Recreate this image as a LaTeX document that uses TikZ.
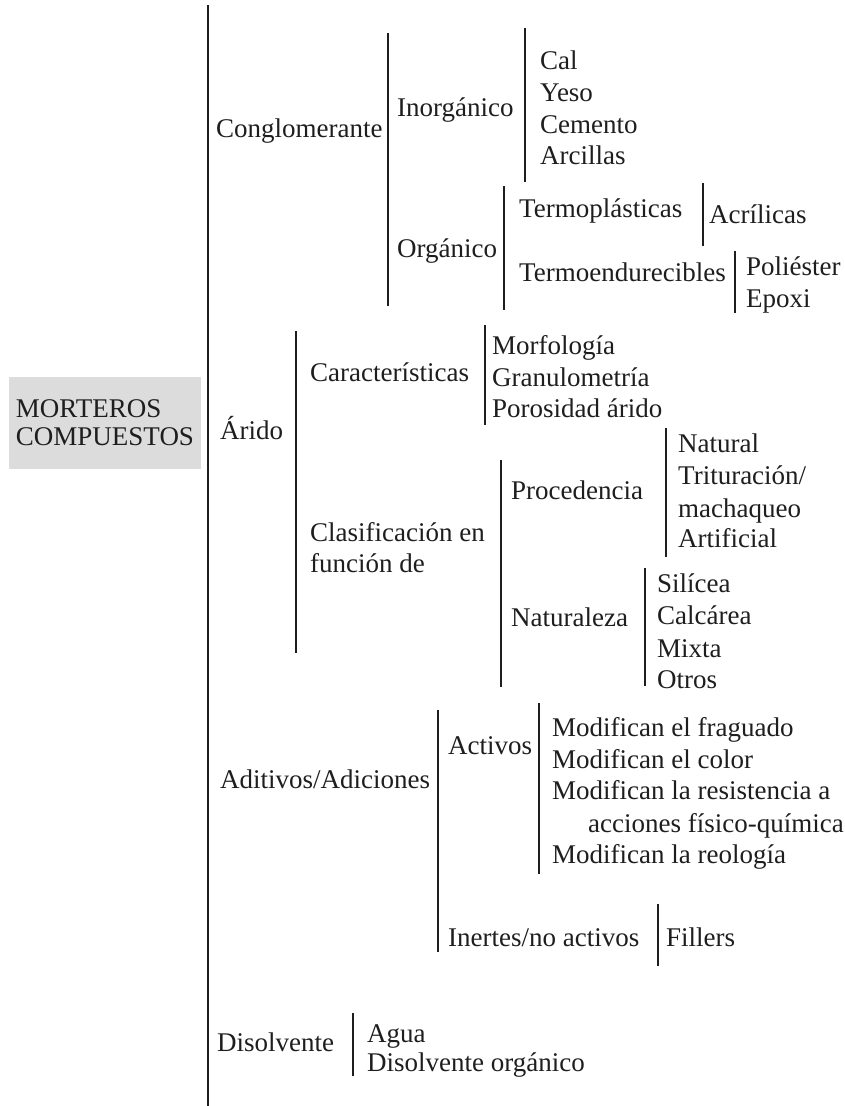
\documentclass[tikz,border=0pt]{standalone}
\usepackage{fontspec}
\setmainfont{Liberation Serif}
\usepackage{tikz}

\definecolor{boxgray}{HTML}{DCDCDC}
\definecolor{inkgray}{HTML}{1E1E1E}

\tikzset{
  item/.style={anchor=west,inner sep=0pt,text=inkgray,
    font=\fontsize{27}{32}\selectfont,text height=18pt,text depth=0pt},
  bar/.style={draw=inkgray,line width=2pt},
}

\begin{document}
\begin{tikzpicture}[x=1pt,y=-1pt]
  \useasboundingbox (0,0) rectangle (844,1106);

  % root box
  \node[fill=boxgray,minimum width=192pt,minimum height=92pt,inner sep=0pt,
        align=left,text=inkgray,font=\fontsize{27}{28}\selectfont](root) at (105,423)
        {MORTEROS\\COMPUESTOS};

  % main bar
  \coordinate (mainT) at (208,5);
  \coordinate (mainB) at (208,1106);
  \draw[bar,line width=2.5pt] (mainT) -- (mainB);

  % Conglomerante
  \node[item](conglo) at (216,128) {Conglomerante};
  \coordinate (congloT) at (388,33);
  \coordinate (congloB) at (388,306);
  \draw[bar] (congloT) -- (congloB);

  \node[item](inorg) at (397,107) {Inorgánico};
  \coordinate (inorgT) at (525,28);
  \coordinate (inorgB) at (525,182);
  \draw[bar] (inorgT) -- (inorgB);
  \node[item](cal)      at (540,60)  {Cal};
  \node[item](yeso)     at (540,92)  {Yeso};
  \node[item](cemento)  at (540,124) {Cemento};
  \node[item](arcillas) at (540,155) {Arcillas};

  \node[item](org) at (397,248) {Orgánico};
  \coordinate (orgT) at (504,186);
  \coordinate (orgB) at (504,310);
  \draw[bar] (orgT) -- (orgB);
  \node[item](termopl)  at (519,208) {Termoplásticas};
  \coordinate (termoplT) at (703,183);
  \coordinate (termoplB) at (703,246);
  \draw[bar] (termoplT) -- (termoplB);
  \node[item](acril)    at (709,214) {Acrílicas};
  \node[item](termoend) at (519,272) {Termoendurecibles};
  \coordinate (termoendT) at (735,251);
  \coordinate (termoendB) at (735,313);
  \draw[bar] (termoendT) -- (termoendB);
  \node[item](poliester) at (746,266) {Poliéster};
  \node[item](epoxi)     at (746,298) {Epoxi};

  % Arido
  \node[item](arido) at (220,430) {Árido};
  \coordinate (aridoT) at (296,331);
  \coordinate (aridoB) at (296,653);
  \draw[bar] (aridoT) -- (aridoB);

  \node[item](caract) at (310,372) {Características};
  \coordinate (caractT) at (485,325);
  \coordinate (caractB) at (485,425);
  \draw[bar] (caractT) -- (caractB);
  \node[item](morfo)    at (492,345) {Morfología};
  \node[item](granulo)  at (492,377) {Granulometría};
  \node[item](porosidad) at (492,408) {Porosidad árido};

  \node[item](clasif)  at (310,532) {Clasificación en};
  \node[item](clasifB) at (310,563) {función de};
  \coordinate (clasifT) at (501,460);
  \coordinate (clasifE) at (501,687);
  \draw[bar] (clasifT) -- (clasifE);

  \node[item](proced) at (511,490) {Procedencia};
  \coordinate (procedT) at (666,428);
  \coordinate (procedB) at (666,557);
  \draw[bar] (procedT) -- (procedB);
  \node[item](natural)    at (678,443) {Natural};
  \node[item](trituracion) at (678,475) {Trituración/};
  \node[item](machaqueo)  at (678,508) {machaqueo};
  \node[item](artificial) at (678,538) {Artificial};

  \node[item](natur) at (511,617) {Naturaleza};
  \coordinate (naturT) at (645,568);
  \coordinate (naturB) at (645,686);
  \draw[bar] (naturT) -- (naturB);
  \node[item](silicea)  at (657,583) {Silícea};
  \node[item](calcarea) at (657,615) {Calcárea};
  \node[item](mixta)    at (657,648) {Mixta};
  \node[item](otros)    at (657,679) {Otros};

  % Aditivos
  \node[item](aditivos) at (220,779) {Aditivos/Adiciones};
  \coordinate (aditivosT) at (438,710);
  \coordinate (aditivosB) at (438,952);
  \draw[bar] (aditivosT) -- (aditivosB);

  \node[item](activos) at (448,745) {Activos};
  \coordinate (activosT) at (539,703);
  \coordinate (activosB) at (539,874);
  \draw[bar] (activosT) -- (activosB);
  \node[item](fraguado)   at (552,727) {Modifican el fraguado};
  \node[item](color)      at (552,759) {Modifican el color};
  \node[item](resist)     at (552,790) {Modifican la resistencia a};
  \node[item](acciones)   at (588,823) {acciones físico-química};
  \node[item](reologia)   at (552,854) {Modifican la reología};

  \node[item](inertes) at (448,937) {Inertes/no activos};
  \coordinate (inertesT) at (658,904);
  \coordinate (inertesB) at (658,966);
  \draw[bar] (inertesT) -- (inertesB);
  \node[item](fillers) at (666,937) {Fillers};

  % Disolvente
  \node[item](disolv) at (217,1042) {Disolvente};
  \coordinate (disolvT) at (353,1013);
  \coordinate (disolvB) at (353,1076);
  \draw[bar] (disolvT) -- (disolvB);
  \node[item](agua)    at (367,1033) {Agua};
  \node[item](disorg)  at (367,1062) {Disolvente orgánico};
\end{tikzpicture}
\end{document}
